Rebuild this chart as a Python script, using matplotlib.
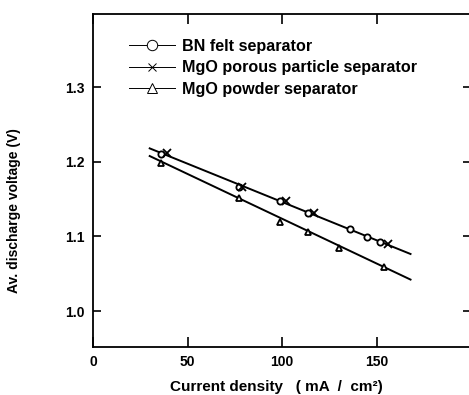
import numpy as np
import matplotlib
matplotlib.use('Agg')
import matplotlib.pyplot as plt
from matplotlib.lines import Line2D

# ── Data ────────────────────────────────────────────────────────────────────
bn_x = [36, 77, 99, 114, 136, 145, 152]
bn_y = [1.211, 1.166, 1.147, 1.131, 1.110, 1.099, 1.092]

mgo_por_x = [39, 79, 102, 117, 156]
mgo_por_y = [1.212, 1.166, 1.147, 1.131, 1.090]

mgo_pow_x = [36, 77, 99, 114, 130, 154]
mgo_pow_y = [1.199, 1.151, 1.120, 1.106, 1.084, 1.059]

fit_range = [30, 168]

# ── Style ───────────────────────────────────────────────────────────────────
plt.rcParams.update({
    'font.family': ['Liberation Sans', 'DejaVu Sans'],
    'font.weight': 'bold',
    'font.size': 10,
})

fig = plt.figure(figsize=(4.69, 3.95), dpi=100)
ax = fig.add_axes([93 / 469, 1 - 347 / 395, 378 / 469, 333 / 395])

# fitted lines: upper through BN + porous MgO, lower through powder MgO
xs = np.array(fit_range, dtype=float)
up = np.polyfit(bn_x + mgo_por_x, bn_y + mgo_por_y, 1)
lo = np.polyfit(mgo_pow_x, mgo_pow_y, 1)
ax.plot(xs, np.polyval(up, xs), color='black', lw=1.4, zorder=1)
ax.plot(xs, np.polyval(lo, xs) + 0.002, color='black', lw=1.4, zorder=1)

ax.plot(bn_x, bn_y, 'o', ms=4.5, mfc='white', mec='black', mew=1.3, zorder=3)
ax.plot(mgo_por_x, mgo_por_y, 'x', ms=5.5, mec='black', mew=1.3, zorder=3)
ax.plot(mgo_pow_x, mgo_pow_y, '^', ms=5, mfc='white', mec='black', mew=1.3, zorder=3)

ax.set_xlim(0, 200)
ax.set_ylim(0.952, 1.398)
ax.set_xticks([0, 50, 100, 150])
ax.set_yticks([1.0, 1.1, 1.2, 1.3])
ax.set_yticklabels(['1.0', '1.1', '1.2', '1.3'])
ax.tick_params(direction='in', top=True, right=True, length=7, width=1.2,
               labelsize=10, pad=6)
ax.tick_params(axis='y', which='both', length=5)
ax.tick_params(axis='y', which='major', right=True, length=6)
for sp in ax.spines.values():
    sp.set_linewidth(1.3)
# scanned original is cropped just before the right frame line
ax.spines['right'].set_visible(False)
for lbl in ax.get_xticklabels() + ax.get_yticklabels():
    lbl.set_fontweight('bold')

ax.set_xlabel('Current density   ( mA  /  cm²)', fontsize=11, fontweight='bold')
ax.xaxis.set_label_coords(0.485, -0.1)
ax.set_ylabel('Av. discharge voltage (V)', fontsize=10, fontweight='bold')
ax.yaxis.set_label_coords(-0.19, 0.41)

handles = [
    Line2D([], [], color='black', lw=0.7, marker='o', ms=7.5, mfc='white', mec='black', mew=0.7),
    Line2D([], [], color='black', lw=0.7, marker='x', ms=6, mec='black', mew=0.7),
    Line2D([], [], color='black', lw=0.7, marker='^', ms=7.5, mfc='white', mec='black', mew=0.7),
]
labels = ['BN felt separator', 'MgO porous particle separator', 'MgO powder separator']
ax.legend(handles, labels, loc='upper left', bbox_to_anchor=(0.075, 0.95),
          frameon=False, borderpad=0, handlelength=2.8, handletextpad=0.45,
          labelspacing=0.4, prop={'weight': 'bold', 'size': 11.6})

fig.savefig('out.png', dpi=100)
